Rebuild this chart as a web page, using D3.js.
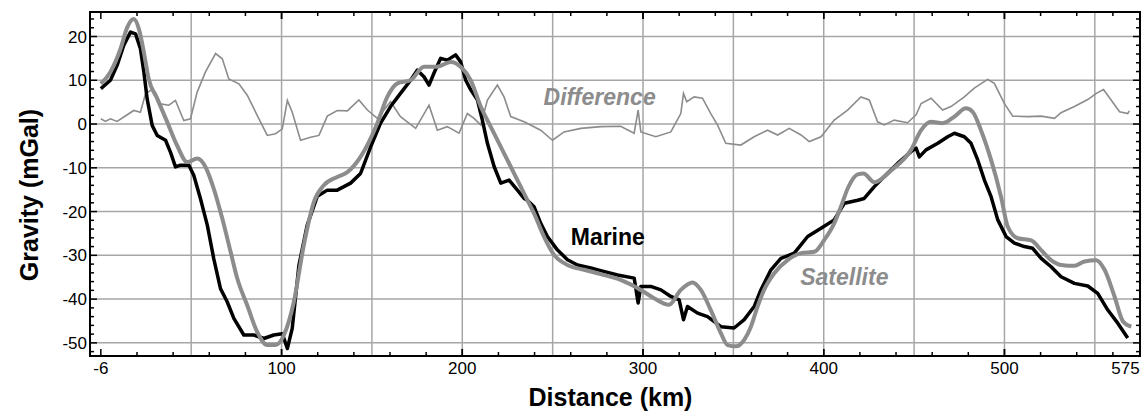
<!DOCTYPE html>
<html>
<head>
<meta charset="utf-8">
<script src="https://cdn.jsdelivr.net/npm/d3@7"></script>
<style>
  body { margin: 0; background: #fff; }
  text { font-family: Arial, "Liberation Sans", sans-serif; }
</style>
</head>
<body>
<script>
// distance along the profile (km) and gravity anomaly (mGal)
const marineKm = [0, 5.3, 9, 12.7, 16.4, 19.2, 21.9, 23.8, 25.6, 28.4, 31.2, 35.8, 38.5, 41.3, 44.1, 48.7, 51.4, 55.1, 58.9, 62.5, 66.2, 69.9, 73.6, 79.1, 84.7, 90.2, 95.7, 100.4, 103.2, 105.9, 109.6, 114.2, 119.8, 125.3, 130.8, 138.2, 143.7, 149.3, 154.8, 160.3, 165.8, 171.4, 175.1, 178.8, 181.6, 184.3, 188, 191.7, 196.3, 199.1, 201.9, 204.7, 208.4, 211.1, 213.9, 217.6, 221.3, 225.9, 230.5, 234.2, 236, 239.7, 243.4, 247.1, 252.7, 258.2, 263.7, 271.1, 276.6, 285.9, 295.1, 297.3, 298.8, 304.3, 309.9, 315.4, 320, 322.4, 324.6, 330.2, 335.7, 343.1, 350.4, 356, 361.5, 365.2, 370.8, 376.3, 383.7, 391.1, 398.5, 405.8, 411.4, 418.8, 422.4, 428, 433.5, 440.9, 448.3, 451.1, 452.9, 456.6, 463.1, 468.6, 472.3, 477.8, 481.5, 485.2, 488.9, 492.6, 496.3, 500.9, 505.5, 511, 515.6, 520.3, 525.8, 531.3, 538.7, 546.1, 551.6, 557.2, 562.7, 568.2];
const marineMgal = [8.1, 10, 13.4, 18, 21, 20.6, 17.2, 11.9, 5.8, -0.3, -2.6, -3.7, -6.4, -9.8, -9.4, -9.4, -11.7, -17, -23.1, -30.8, -37.6, -40.6, -44.4, -48.2, -48.2, -49, -48.2, -47.9, -51.3, -46.7, -32.3, -23.1, -16.5, -15.1, -15.1, -13.5, -11.3, -5.2, 0.2, 4, 7, 10, 12.3, 10.8, 8.9, 11.6, 15, 14.6, 15.8, 14.2, 10, 7.8, 5.5, 0.9, -4.4, -9.7, -13.5, -12.8, -15.1, -17, -17.4, -18.9, -22.7, -25.7, -28.8, -31, -32.2, -32.9, -33.5, -34.5, -35.2, -40.9, -37.1, -37.1, -37.9, -39.4, -40.2, -44.7, -41.7, -43.2, -44, -46.3, -46.6, -44.7, -41.7, -37.9, -33.3, -30.7, -29.5, -25.7, -23.8, -21.9, -18.1, -17.4, -17, -14.3, -12, -9, -6.3, -5.5, -7.5, -5.9, -4.4, -2.9, -2.1, -2.9, -4.4, -8.2, -12.8, -16.6, -21.9, -25.7, -27.2, -28, -28.4, -30.7, -32.6, -34.9, -36.4, -37, -38.7, -42.5, -45.5, -48.9];

const satelliteKm = [0, 5.3, 10.9, 14.6, 18.2, 21, 23.8, 26.5, 31.2, 36.7, 42.2, 47.8, 53.3, 57.9, 62.5, 67.2, 71.8, 75.5, 81, 86.5, 92.1, 96.7, 101.3, 106.8, 112.3, 117.9, 123.4, 130.8, 136.4, 143.7, 153, 158.5, 164.1, 171.4, 178.8, 186.2, 193.6, 199.1, 204.7, 210.2, 215.7, 223.1, 230.5, 236, 239.7, 245.2, 250.8, 258.2, 267.4, 276.6, 287.6, 298.8, 306.1, 314.4, 320.9, 327.4, 332, 337.5, 343.1, 346.8, 351.4, 356, 359.7, 363.4, 367, 372.6, 380, 387.4, 394.8, 400.3, 405.8, 409.5, 413.5, 418.8, 422, 428, 437.6, 448.3, 453.9, 459.4, 465.8, 472.3, 478.7, 482.4, 487, 492.6, 498.1, 501.8, 507.4, 514.8, 520.3, 525.8, 531.3, 538.7, 544.3, 550.8, 555.4, 560.9, 565.6, 570.2];
const satelliteMgal = [9.2, 11.9, 17.2, 22.1, 24, 21.8, 16.4, 10.3, 5.8, 0.5, -4.9, -8.7, -7.9, -9.8, -14.8, -21.6, -29.2, -35.3, -41.4, -47.5, -50.5, -50.5, -48.2, -40.6, -27.7, -17.8, -14, -12.1, -11, -7.5, 0.2, 6.2, 9.3, 10, 13.1, 13.1, 14.2, 13.1, 10, 4, -0.6, -6.7, -12.8, -17.4, -20.4, -25.7, -29.9, -32.2, -33.3, -34.3, -35.6, -37.9, -39.8, -41.3, -37.9, -36.2, -37.9, -42.5, -47.8, -50.5, -50.8, -49.3, -46.3, -41.7, -37.9, -34.1, -31.1, -29.5, -29.2, -26.5, -22.7, -18.9, -14.5, -11.5, -11.3, -13.3, -10.5, -5.9, -1.4, 0.5, 0.2, 1.7, 3.6, 2.8, -1.4, -8.2, -16.6, -23.4, -26.1, -26.6, -28.8, -31.1, -32.2, -32.4, -31.4, -31.1, -33.3, -39.4, -45.1, -46.3];

const differenceKm = [0, 2.5, 5.3, 9, 12.7, 18.2, 21.9, 24.7, 27.5, 30.2, 33, 37.6, 41.3, 45.9, 49.6, 53.3, 57.9, 63.5, 67.2, 70.8, 76.4, 81, 86.5, 92.1, 96.7, 100.4, 103.2, 105.9, 110.5, 116.1, 120.7, 125.3, 130.8, 136.4, 142.8, 147.5, 153, 160.3, 165.8, 174.2, 181.6, 186.2, 191.7, 198.2, 202.8, 206.5, 210.2, 213.9, 219.4, 223.1, 226.8, 234.2, 243.4, 249.9, 256.3, 265.6, 276.6, 287.6, 295.1, 297.3, 298.8, 307.1, 315.4, 320.9, 322.4, 324.2, 328.3, 332.9, 337.5, 341.2, 345.8, 354.1, 361.5, 368.9, 374.5, 380.9, 387.4, 392, 398.5, 405.8, 413.2, 420.6, 425.2, 429.8, 433.5, 439, 446.4, 451.1, 453.9, 459.4, 465.8, 470.4, 477.8, 483.3, 490.7, 494.4, 499.9, 504.6, 512.9, 520.3, 527.7, 531.3, 538.7, 546.1, 550.8, 554.8, 559, 563.7, 568.2, 569.1];
const differenceMgal = [1.2, 0.6, 1.2, 0.6, 1.6, 3.1, 2.7, 6.9, 7.7, 7.3, 4.6, 4.3, 5.4, 0.8, 1.2, 7.3, 11.9, 16.1, 14.9, 10.3, 9.2, 6.6, 2, -2.6, -2.2, -1.1, 5.4, 2.7, -3.7, -3, -2.6, 1.8, 3.1, 3, 5.5, 3.2, 1.3, 5.1, 1.7, -1, 4.3, -1.4, -0.6, -2.1, 2.4, 1.3, -0.2, 5.5, 8.9, 6.2, 1.7, 0.5, -1.4, -3.7, -1.8, -1, -0.6, -0.5, -2.1, 3.2, -1.8, -2.9, -1.8, 2.4, 7, 5.1, 6.2, 5.9, 2.4, -0.2, -4.4, -4.8, -2.9, -1.4, -2.5, -1, -2.5, -4, -2.9, 0.9, 3.2, 6.2, 5.5, 0.5, -0.2, 0.9, 0.3, 2.1, 4.7, 5.9, 3.2, 4, 6.2, 8.2, 10.2, 9.3, 4.7, 1.8, 1.7, 1.8, 1.3, 2.6, 4, 5.6, 7, 7.9, 5.5, 2.8, 2.4, 3];

const xTickLabels = [[0, "-6"], [100, "100"], [200, "200"], [300, "300"], [400, "400"], [500, "500"], [567, "575"]];
const yTickValues = [20, 10, 0, -10, -20, -30, -40, -50];

const width = 1145, height = 414;
const plotLeft = 90, plotRight = 1140, plotTop = 12, plotBottom = 356;

const x = d3.scaleLinear().domain([-6, 575]).range([plotLeft, plotRight]);
const y = d3.scaleLinear().domain([-53, 25.6]).range([plotBottom, plotTop]);

const svg = d3.select("body").append("svg")
  .attr("width", width)
  .attr("height", height);

// grid
const grid = svg.append("g").attr("stroke", "#a6a6a6").attr("stroke-width", 1.5);
grid.selectAll("line.gx")
  .data(d3.range(50, 575, 50))
  .join("line")
  .attr("class", "gx")
  .attr("x1", d => x(d)).attr("x2", d => x(d))
  .attr("y1", plotTop).attr("y2", plotBottom);
grid.selectAll("line.gy")
  .data(yTickValues)
  .join("line")
  .attr("class", "gy")
  .attr("x1", plotLeft).attr("x2", plotRight)
  .attr("y1", d => y(d)).attr("y2", d => y(d));

// inward ticks on all four sides
const ticks = svg.append("g").attr("stroke", "#000").attr("stroke-width", 1.5);
d3.range(0, 575, 20).concat(d3.range(100, 501, 100)).forEach(d => {
  const len = d % 100 === 0 ? 7 : 4;
  ticks.append("line").attr("x1", x(d)).attr("x2", x(d)).attr("y1", plotBottom).attr("y2", plotBottom - len);
  ticks.append("line").attr("x1", x(d)).attr("x2", x(d)).attr("y1", plotTop).attr("y2", plotTop + len);
});
d3.range(-52, 25, 2).forEach(d => {
  const len = d % 10 === 0 ? 7 : 4;
  ticks.append("line").attr("x1", plotLeft).attr("x2", plotLeft + len).attr("y1", y(d)).attr("y2", y(d));
  ticks.append("line").attr("x1", plotRight).attr("x2", plotRight - len).attr("y1", y(d)).attr("y2", y(d));
});

// series
const line = d3.line().x(d => x(d[0])).y(d => y(d[1]));

svg.append("path")
  .datum(d3.zip(differenceKm, differenceMgal))
  .attr("fill", "none")
  .attr("stroke", "#8c8c8c")
  .attr("stroke-width", 1.6)
  .attr("d", line);

svg.append("path")
  .datum(d3.zip(marineKm, marineMgal))
  .attr("fill", "none")
  .attr("stroke", "#000")
  .attr("stroke-width", 3.5)
  .attr("stroke-linejoin", "round")
  .attr("d", line);

svg.append("path")
  .datum(d3.zip(satelliteKm, satelliteMgal))
  .attr("fill", "none")
  .attr("stroke", "#8c8c8c")
  .attr("stroke-width", 4)
  .attr("stroke-linejoin", "round")
  .attr("d", line.curve(d3.curveMonotoneX));

// frame
svg.append("rect")
  .attr("x", plotLeft).attr("y", plotTop)
  .attr("width", plotRight - plotLeft).attr("height", plotBottom - plotTop)
  .attr("fill", "none")
  .attr("stroke", "#000")
  .attr("stroke-width", 2);

// tick labels
svg.append("g")
  .selectAll("text")
  .data(xTickLabels)
  .join("text")
  .attr("x", d => x(d[0]))
  .attr("y", plotBottom + 18)
  .attr("text-anchor", "middle")
  .attr("font-size", 17)
  .text(d => d[1]);

svg.append("g")
  .selectAll("text")
  .data(yTickValues)
  .join("text")
  .attr("x", plotLeft - 3)
  .attr("y", d => y(d) + 6)
  .attr("text-anchor", "end")
  .attr("font-size", 17)
  .text(d => d);

// axis titles
svg.append("text")
  .attr("x", x(282))
  .attr("y", 406)
  .attr("text-anchor", "middle")
  .attr("font-size", 25)
  .attr("font-weight", "bold")
  .text("Distance (km)");

svg.append("text")
  .attr("transform", "translate(38,195) rotate(-90)")
  .attr("text-anchor", "middle")
  .attr("font-size", 25)
  .attr("font-weight", "bold")
  .text("Gravity (mGal)");

// series labels
svg.append("text")
  .attr("x", x(245)).attr("y", y(4.4))
  .attr("font-size", 23).attr("font-weight", "bold").attr("font-style", "italic")
  .attr("fill", "#8c8c8c")
  .text("Difference");

svg.append("text")
  .attr("x", x(260)).attr("y", y(-27.6))
  .attr("font-size", 23).attr("font-weight", "bold")
  .attr("fill", "#000")
  .text("Marine");

svg.append("text")
  .attr("x", x(387)).attr("y", y(-36.7))
  .attr("font-size", 23).attr("font-weight", "bold").attr("font-style", "italic")
  .attr("fill", "#8c8c8c")
  .text("Satellite");
</script>
</body>
</html>
